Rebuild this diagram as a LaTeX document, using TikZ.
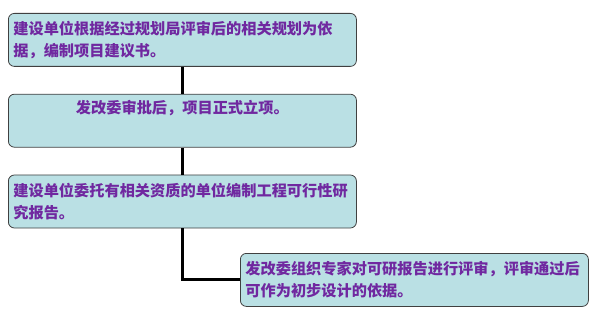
\documentclass[tikz,border=0pt]{standalone}
\usepackage{fontspec}
\newfontfamily\cjk{Noto Sans CJK SC}
\usetikzlibrary{positioning}
\definecolor{boxfill}{RGB}{186,224,228}
\definecolor{boxtext}{RGB}{112,40,160}
\tikzset{
	stepbox/.style={draw=black!75, fill=boxfill, rounded corners=6pt, line width=0.8pt,
		text width=338pt, inner sep=5pt, minimum height=53pt, align=left,
		font=\cjk\bfseries\fontsize{15.2}{22}\selectfont, text=boxtext},
	link/.style={line width=3pt}
}
\begin{document}
\begin{tikzpicture}[x=1pt, y=-1pt]
	\useasboundingbox (0,0) rectangle (600,318);
	
	\node[stepbox, anchor=north west] (plan) at (8,13) {建设单位根据经过规划局评审后的相关规划为依\\据，编制项目建议书。};
	\node[stepbox, align=center, below=27pt of plan] (approve) {发改委审批后，项目正式立项。\\\strut};
	\node[stepbox, below=27pt of approve] (report) {建设单位委托有相关资质的单位编制工程可行性研\\究报告。};
	\node[stepbox, anchor=north west] (review) at (240,253) {发改委组织专家对可研报告进行评审，评审通过后\\可作为初步设计的依据。};
	
	\draw[link] (plan) -- (approve);
	\draw[link] (approve) -- (report);
	\draw[link] (report.south) |- (review.west);
\end{tikzpicture}
\end{document}
